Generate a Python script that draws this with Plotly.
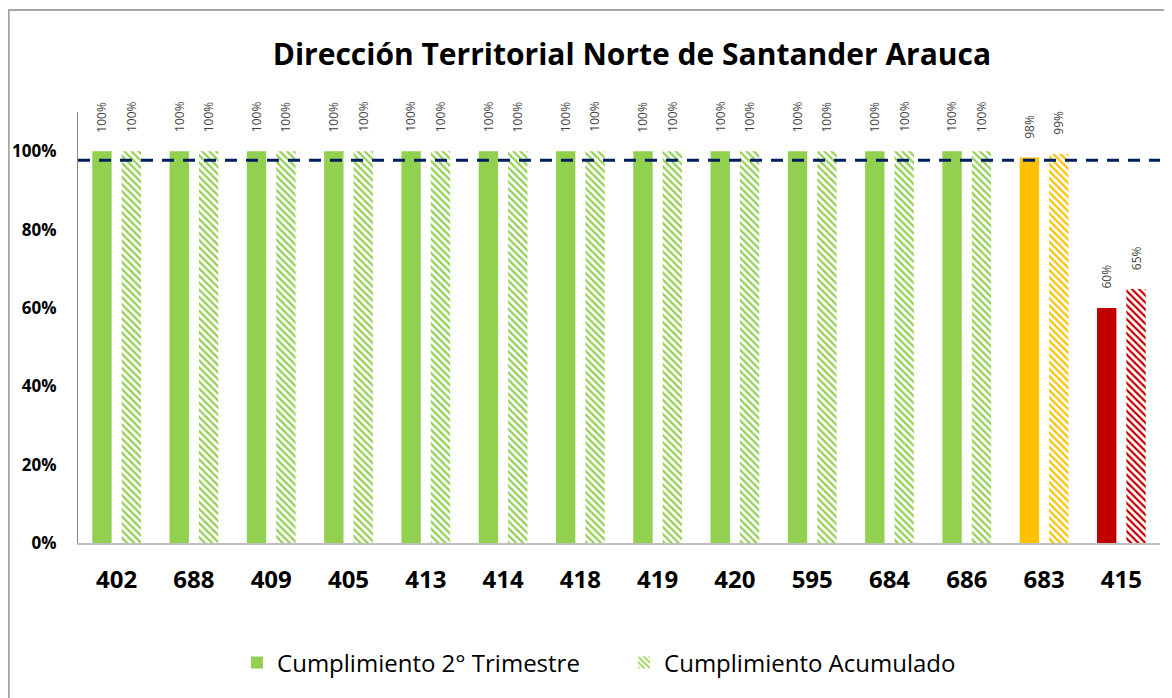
import plotly.graph_objects as go

categories = ["402", "688", "409", "405", "413", "414", "418", "419", "420", "595", "684", "686", "683", "415"]
trimestre = [1.0, 1.0, 1.0, 1.0, 1.0, 1.0, 1.0, 1.0, 1.0, 1.0, 1.0, 1.0, 0.984, 0.60]
acumulado = [1.0, 1.0, 1.0, 1.0, 1.0, 1.0, 1.0, 1.0, 1.0, 1.0, 1.0, 1.0, 0.993, 0.648]
bar_colors = ["#92D050"] * 12 + ["#FFC000", "#C00000"]
target = 0.977
y_ticks = [0, 0.2, 0.4, 0.6, 0.8, 1.0]

FONT = "Open Sans"
W, H = 1164, 690
ML, MR, MT, MB = 70, 12, 104, 155
BARGAP, GROUPGAP = 0.24, 0.34

fig = go.Figure()
fig.add_trace(go.Bar(
    x=categories, y=trimestre, name="Cumplimiento 2° Trimestre",
    marker=dict(color=bar_colors, line=dict(width=0)),
))
fig.add_trace(go.Bar(
    x=categories, y=acumulado, name="Cumplimiento Acumulado",
    marker=dict(color="white", line=dict(width=0),
                pattern=dict(shape="\\", fgcolor=bar_colors, bgcolor="white",
                             size=5, solidity=0.45, fillmode="replace")),
))

# rotated value labels above bars (offset = half a bar slot); x given as category index
cat_px = (W - ML - MR) / len(categories)
slot = (1 - BARGAP) * cat_px / 2
for series, sign in ((trimestre, -1), (acumulado, 1)):
    for i, v in enumerate(series):
        fig.add_annotation(x=i, y=v, xref="x", yref="y", text=f"{v:.0%}",
                           textangle=-90, showarrow=False, yanchor="bottom",
                           xshift=sign * slot / 2, yshift=17,
                           font=dict(family=FONT, size=12, color="#404040"))

fig.add_shape(type="line", xref="paper", yref="y", x0=0, x1=1, y0=target, y1=target,
              line=dict(color="#002060", width=3, dash="12px,9px"))
# outer chart border
fig.add_shape(type="rect", xref="paper", yref="paper",
              x0=-0.0640, x1=1.2, y0=-0.5, y1=1.2367,
              line=dict(color="#A6A6A6", width=2), fillcolor="rgba(0,0,0,0)")

fig.update_layout(
    width=W, height=H,
    margin=dict(l=ML, r=MR, t=MT, b=MB, autoexpand=False),
    paper_bgcolor="white", plot_bgcolor="white",
    barmode="group", bargap=BARGAP, bargroupgap=GROUPGAP,
    title=dict(text="<b>Dirección Territorial Norte de Santander Arauca</b>",
               xref="container", x=0.536, xanchor="center",
               yref="container", y=0.932, yanchor="middle",
               font=dict(family=FONT, size=30, color="black")),
    legend=dict(orientation="h", x=0.147, xanchor="left", y=-0.278, yanchor="middle",
                font=dict(family=FONT, size=24, color="black"),
                entrywidth=342, entrywidthmode="pixels",
                traceorder="normal"),
)
fig.update_xaxes(type="category", automargin=False, range=[-0.5, len(categories) - 0.5],
                 showline=True, linecolor="#BFBFBF", linewidth=2,
                 ticks="outside", ticklen=14, tickcolor="rgba(0,0,0,0)",
                 tickfont=dict(family=FONT, size=24, color="black", weight="bold"))
fig.update_yaxes(range=[0, 1.1], tickvals=y_ticks, tickformat=".0%", showgrid=False,
                 automargin=False,
                 showline=True, linecolor="#868686", linewidth=1, zeroline=False,
                 ticks="outside", ticklen=17, tickcolor="rgba(0,0,0,0)",
                 tickfont=dict(family=FONT, size=17, color="black", weight="bold"))

fig.write_html("out.html")
